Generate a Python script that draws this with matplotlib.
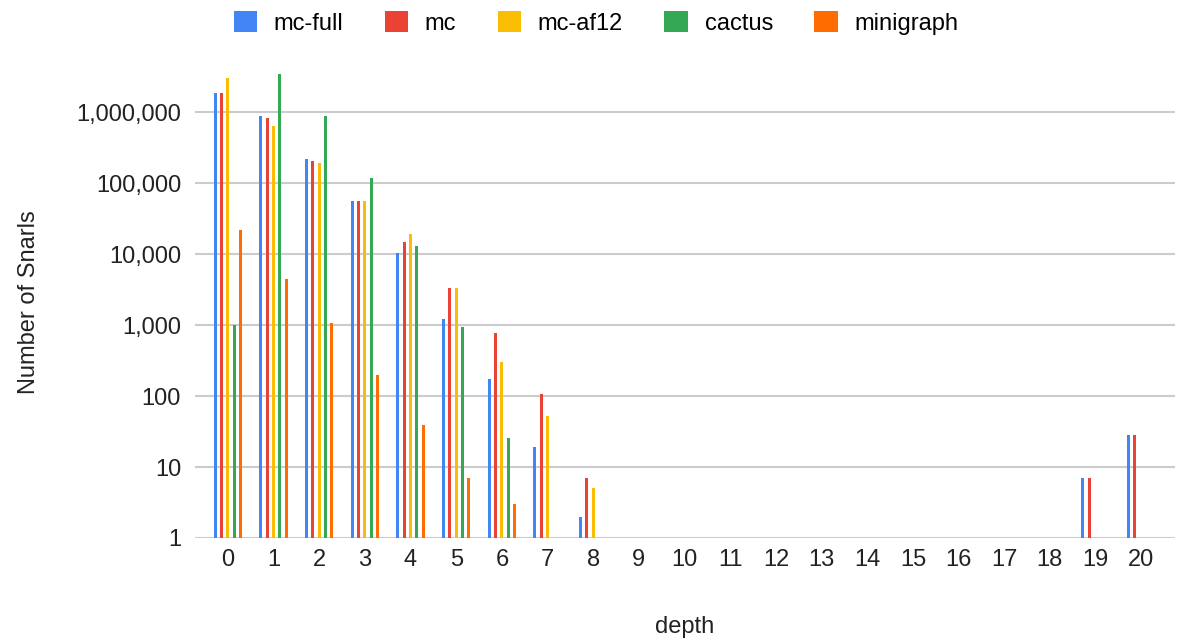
import numpy as np
import matplotlib.pyplot as plt
from matplotlib.ticker import FixedLocator, NullLocator

plt.rcParams['font.family'] = ['Liberation Sans', 'DejaVu Sans']

# depth categories
depths = list(range(21))

# snarl counts per depth (0 = no bar)
mc_full = [1870000, 887000, 218000, 56300, 10400, 1215, 173, 19, 2,
           0, 0, 0, 0, 0, 0, 0, 0, 0, 0, 7, 28]
mc = [1870000, 831000, 204000, 56300, 14750, 3350, 764, 108, 7,
      0, 0, 0, 0, 0, 0, 0, 0, 0, 0, 7, 28]
mc_af12 = [2980000, 635000, 189000, 56300, 19100, 3350, 298, 52, 5,
           0, 0, 0, 0, 0, 0, 0, 0, 0, 0, 0, 0]
cactus = [1000, 3400000, 887000, 117000, 12800, 937, 26, 0, 0,
          0, 0, 0, 0, 0, 0, 0, 0, 0, 0, 0, 0]
minigraph = [21800, 4400, 1057, 198, 39, 7, 3, 0, 0,
             0, 0, 0, 0, 0, 0, 0, 0, 0, 0, 0, 0]

series = [("mc-full", mc_full, "#4285F4"),
          ("mc", mc, "#EA4335"),
          ("mc-af12", mc_af12, "#FBBC04"),
          ("cactus", cactus, "#34A853"),
          ("minigraph", minigraph, "#FF6D01")]

fig = plt.figure(figsize=(11.79, 6.42), dpi=100)
ax = fig.add_axes([195 / 1179, 1 - 538 / 642, (1175 - 195) / 1179, (538 - 66) / 642])

x = np.arange(len(depths))
step = 0.138
w = 0.065
for i, (name, vals, col) in enumerate(series):
    v = np.array(vals, dtype=float)
    v[v <= 0] = np.nan
    ax.bar(x + (i - 2) * step, v - 1, bottom=1, width=w, color=col, label=name, zorder=3)

ax.set_yscale('log')
ax.set_ylim(1, 10 ** 6.65)
ax.set_xlim(-0.72, 20.74)
ticks = [1, 10, 100, 1000, 10000, 100000, 1000000]
ax.yaxis.set_major_locator(FixedLocator(ticks))
ax.yaxis.set_minor_locator(NullLocator())
ax.set_yticklabels([f"{t:,}" for t in ticks])
ax.set_xticks(x)
ax.set_xticklabels([str(d) for d in depths])
ax.tick_params(axis='both', length=0, labelsize=17, colors='#222222', pad=8)
ax.tick_params(axis='y', pad=10)
ax.grid(axis='y', color='#cccccc', linewidth=1.5, zorder=0)
for s in ax.spines.values():
    s.set_visible(False)

ax.set_ylabel("Number of Snarls", fontsize=17, color='#222222', labelpad=26)
ax.set_xlabel("depth", fontsize=17, color='#222222', labelpad=32)

handles, labels = ax.get_legend_handles_labels()
fig.legend(handles, labels, loc='center', bbox_to_anchor=(596 / 1179, 1 - 23 / 642),
           ncol=5, frameon=False, fontsize=17, handlelength=1.0, handleheight=1.0,
           columnspacing=1.75, handletextpad=0.7)

fig.savefig("out.png", dpi=100)
